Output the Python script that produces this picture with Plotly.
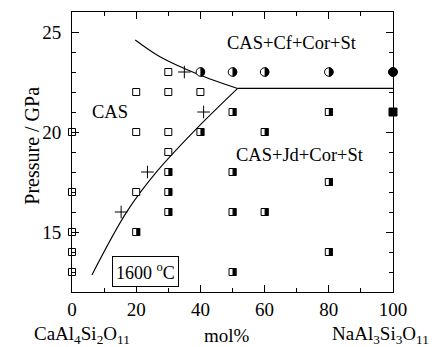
import plotly.graph_objects as go

# ---------------- data ----------------
# CAS only (open squares)
cas_x = [0, 0, 0, 0, 0, 20, 20, 20, 30, 30, 30, 30, 40]
cas_y = [20, 17, 15, 14, 13, 22, 20, 17, 23, 22, 20, 19, 22]

# crosses
plus_x = [35, 41, 23.5, 15.3]
plus_y = [23, 21, 18, 16]

# CAS+Cf+Cor+St (half-filled circles)
cf_x = [40, 50, 60, 80]
cf_y = [23, 23, 23, 23]

# CAS+Jd+Cor+St (half-filled squares)
jd_x = [50, 80, 40, 60, 30, 50, 30, 80, 30, 50, 60, 20, 80, 50]
jd_y = [21, 21, 20, 20, 18, 18, 17, 17.5, 16, 16, 16, 15, 14, 13]

# end-member NaAl3Si3O11 (filled)
na_circle_x = [100]
na_circle_y = [23]
na_square_x = [100]
na_square_y = [21]

# phase boundaries
upper_x = [19.7, 27, 35, 43, 51.6]
upper_y = [24.6, 23.8, 23.17, 22.65, 22.18]
lower_x = [6.2, 17.1, 26.2, 37.9, 51.6]
lower_y = [12.85, 16.02, 17.98, 20.02, 22.18]
flat_x = [51.6, 100]
flat_y = [22.18, 22.18]

x_ticks = [0, 20, 40, 60, 80, 100]
y_ticks = [15, 20, 25]

FONT = "Liberation Serif, Times New Roman, serif"

def f(size):
    return dict(family=FONT, size=size, color="black")

fig = go.Figure()

line_style = dict(color="black", width=1.1)
fig.add_trace(go.Scatter(x=upper_x, y=upper_y, mode="lines",
                         line=dict(shape="spline", smoothing=1.0, **line_style), hoverinfo="skip"))
fig.add_trace(go.Scatter(x=lower_x, y=lower_y, mode="lines",
                         line=dict(shape="spline", smoothing=1.0, **line_style), hoverinfo="skip"))
fig.add_trace(go.Scatter(x=flat_x, y=flat_y, mode="lines", line=line_style,
                         hoverinfo="skip", cliponaxis=False))

sq = 7
circ = 8.5
fig.add_trace(go.Scatter(x=cas_x, y=cas_y, mode="markers", cliponaxis=False,
                         marker=dict(symbol="square", size=sq, color="white",
                                     line=dict(color="black", width=1))))
fig.add_trace(go.Scatter(x=jd_x, y=jd_y, mode="markers", cliponaxis=False,
                         marker=dict(symbol="square", size=sq, color="white",
                                     line=dict(color="black", width=1))))
fig.add_trace(go.Scatter(x=cf_x, y=cf_y, mode="markers", cliponaxis=False,
                         marker=dict(symbol="circle", size=circ, color="white",
                                     line=dict(color="black", width=1))))
fig.add_trace(go.Scatter(x=plus_x, y=plus_y, mode="markers", cliponaxis=False,
                         marker=dict(symbol="cross-thin", size=9,
                                     line=dict(color="black", width=1))))
fig.add_trace(go.Scatter(x=na_circle_x, y=na_circle_y, mode="markers", cliponaxis=False,
                         marker=dict(symbol="circle", size=circ + 0.5, color="black",
                                     line=dict(color="black", width=1))))
fig.add_trace(go.Scatter(x=na_square_x, y=na_square_y, mode="markers", cliponaxis=False,
                         marker=dict(symbol="square", size=sq + 1, color="black",
                                     line=dict(color="black", width=1))))

# right-half fills anchored to data points (pixel-sized)
shapes = []
h = (sq + 1) / 2
for x, y in zip(jd_x, jd_y):
    shapes.append(dict(type="rect", xref="x", yref="y", xsizemode="pixel", ysizemode="pixel",
                       xanchor=x, yanchor=y, x0=0, x1=h, y0=-h, y1=h,
                       fillcolor="black", line=dict(width=0), layer="above"))
r = (circ + 1) / 2
k = 0.5523 * r
half_circle = (f"M0,{-r} C{k},{-r} {r},{-k} {r},0 C{r},{k} {k},{r} 0,{r} Z")
for x, y in zip(cf_x, cf_y):
    shapes.append(dict(type="path", xref="x", yref="y", xsizemode="pixel", ysizemode="pixel",
                       xanchor=x, yanchor=y, path=half_circle,
                       fillcolor="black", line=dict(width=0), layer="above"))

L, R, T, B = 72, 46, 12, 55
W, H = 439, 347
pw = W - L - R
ph = H - T - B

def px(xpix):
    return (xpix - L) / pw

def py(ypix):
    return (H - B - ypix) / ph

C = dict(xanchor="center", yanchor="middle", showarrow=False)
annotations = [
    dict(x=11.7, y=21.0, xref="x", yref="y", text="CAS", font=f(18.5), **C),
    dict(x=68.4, y=24.43, xref="x", yref="y", text="CAS+Cf+Cor+St", font=f(18.5), **C),
    dict(x=71.1, y=18.85, xref="x", yref="y", text="CAS+Jd+Cor+St", font=f(18.5), **C),
    dict(x=px(145), y=py(271), xref="paper", yref="paper", text="1600 <sup>o</sup>C",
         font=f(18), bordercolor="black", borderwidth=1, borderpad=3, bgcolor="white", **C),
    dict(x=px(227), y=py(336), xref="paper", yref="paper", text="mol%", font=f(19), **C),
    dict(x=px(81.5), y=py(335), xref="paper", yref="paper",
         text="CaAl<sub>4</sub>Si<sub>2</sub>O<sub>11</sub>", font=f(19), **C),
    dict(x=px(380.5), y=py(335), xref="paper", yref="paper",
         text="NaAl<sub>3</sub>Si<sub>3</sub>O<sub>11</sub>", font=f(19), **C),
    dict(x=px(31.7), y=py(146), xref="paper", yref="paper", text="Pressure / GPa",
         textangle=-90, font=f(20), **C),
]

axis_common = dict(showgrid=False, zeroline=False, showline=True, linecolor="black",
                   linewidth=1, mirror="allticks", ticks="inside", tickcolor="black",
                   tickwidth=1, ticklen=7, tickfont=f(19), automargin=False)

fig.update_layout(
    width=W, height=H,
    margin=dict(l=L, r=R, t=T, b=B, pad=0, autoexpand=False),
    paper_bgcolor="white", plot_bgcolor="white",
    showlegend=False,
    font=f(19),
    shapes=shapes,
    annotations=annotations,
    xaxis=dict(range=[0, 100], tickvals=x_ticks, ticktext=[str(v) for v in x_ticks],
               minor=dict(ticks="inside", dtick=10, ticklen=4, tickcolor="black", tickwidth=1),
               ticklabelstandoff=0, **axis_common),
    yaxis=dict(range=[12, 26], tickvals=y_ticks, ticktext=[str(v) for v in y_ticks],
               minor=dict(ticks="inside", dtick=1, ticklen=4, tickcolor="black", tickwidth=1),
               ticklabelstandoff=6, **axis_common),
)

fig.write_html("out.html", config={"displayModeBar": False},
               post_script="document.body.style.margin='0';")
